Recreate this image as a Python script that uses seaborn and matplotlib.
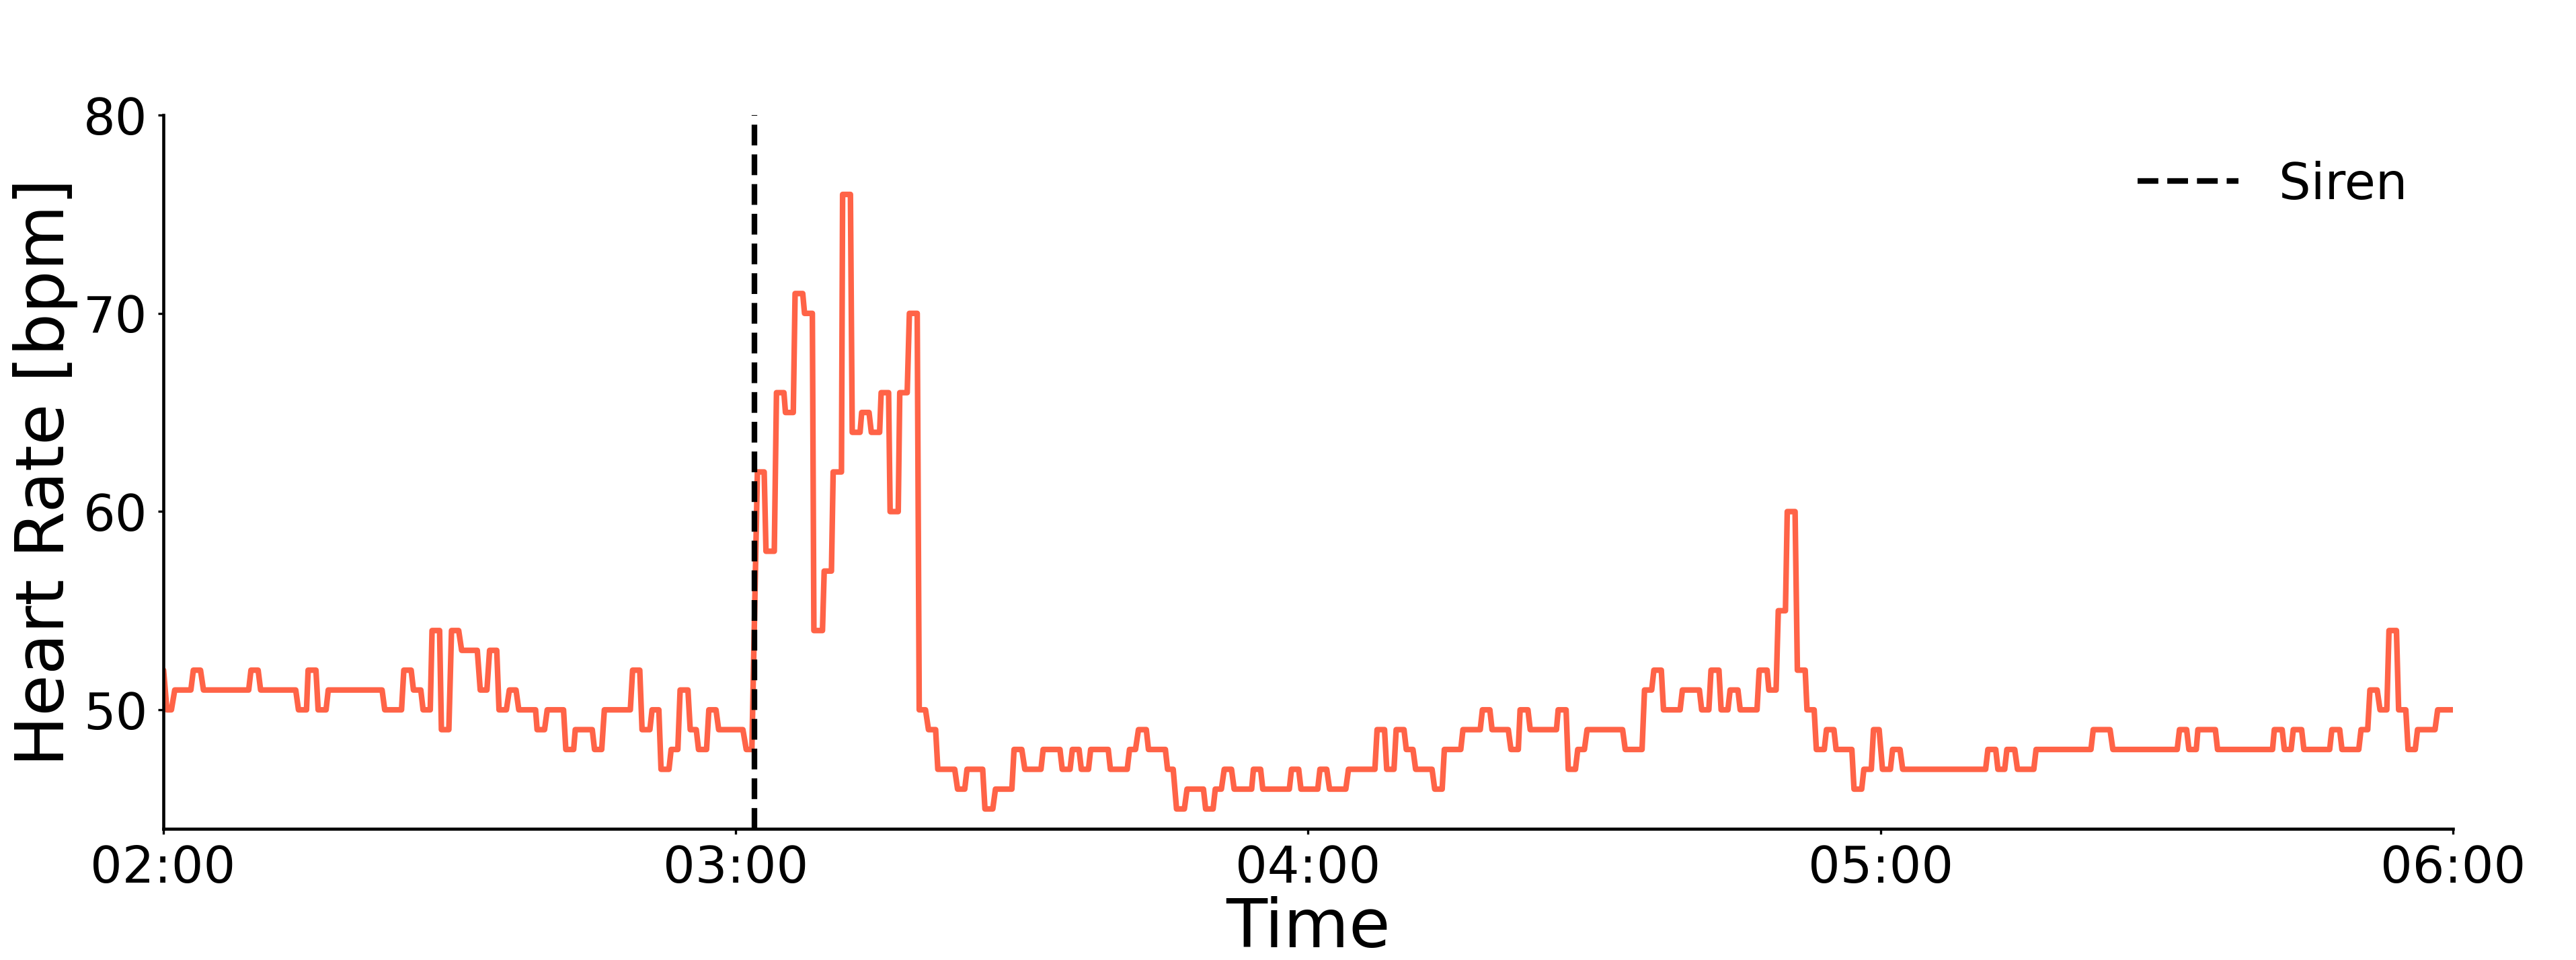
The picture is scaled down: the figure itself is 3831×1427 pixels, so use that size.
import numpy as np
import pandas as pd
import seaborn as sns
import matplotlib.pyplot as plt
import matplotlib.dates as mdates

# heart rate plateaus, minutes after 02:00 (start, end) and bpm
seg_start = [0.00, 0.40, 1.22, 3.17, 4.23, 9.21, 10.22, 14.19, 15.20, 16.25,
             17.31, 23.23, 25.23, 26.24, 27.25, 28.19, 29.17, 30.23, 31.29, 33.24,
             34.22, 35.21, 36.29, 37.28, 39.20, 40.26, 42.21, 43.20, 45.22, 46.25,
             49.21, 50.20, 51.25, 52.19, 53.25, 54.19, 55.25, 56.12, 57.20, 58.23,
             61.12, 62.29, 63.19, 64.29, 65.23, 66.24, 67.23, 68.21, 69.29, 70.23,
             71.22, 72.23, 73.22, 74.23, 75.26, 76.20, 77.21, 78.22, 79.25, 80.22,
             81.20, 83.27, 84.26, 86.14, 87.24, 89.19, 90.32, 92.24, 94.24, 95.30,
             96.24, 97.22, 99.29, 101.29, 102.23, 103.28, 105.28, 106.22, 107.32, 109.27,
             110.28, 111.22, 112.26, 114.28, 115.26, 118.27, 119.26, 121.25, 122.26, 124.24,
             127.24, 128.25, 129.24, 130.30, 131.28, 133.28, 134.29, 136.24, 138.28, 139.29,
             141.27, 142.23, 143.29, 146.22, 147.28, 148.27, 149.25, 153.25, 155.27, 156.25,
             157.26, 159.24, 161.26, 162.24, 163.30, 164.24, 165.30, 167.29, 168.30, 169.29,
             170.23, 171.29, 172.30, 173.28, 174.34, 175.35, 177.23, 178.26, 179.27, 180.21,
             181.27, 182.33, 191.26, 192.31, 193.25, 194.36, 196.31, 202.30, 204.36, 211.34,
             212.33, 213.27, 215.33, 221.28, 222.33, 223.27, 224.38, 227.31, 228.37, 230.37,
             231.30, 232.36, 233.30, 234.31, 235.30, 236.29, 238.40]
seg_end = [0.05, 0.87, 2.91, 3.92, 8.97, 9.96, 13.90, 15.03, 16.02, 17.08,
           22.95, 24.99, 26.00, 27.01, 28.00, 28.98, 29.95, 30.98, 32.93, 33.94,
           34.97, 35.98, 36.99, 39.04, 39.98, 41.97, 43.03, 44.98, 45.97, 48.97,
           49.96, 51.02, 51.96, 53.02, 53.95, 55.01, 55.88, 56.96, 57.95, 60.77,
           61.71, 63.00, 64.06, 65.07, 66.05, 67.04, 68.05, 69.11, 70.05, 71.10,
           72.04, 73.05, 73.99, 75.10, 76.04, 77.05, 77.99, 79.04, 79.91, 80.97,
           82.97, 84.02, 85.90, 86.96, 88.96, 90.00, 92.01, 94.00, 95.06, 96.00,
           96.99, 99.06, 101.05, 101.92, 103.05, 105.05, 105.87, 107.04, 109.04, 110.05,
           110.92, 111.98, 114.09, 115.03, 118.04, 119.02, 121.02, 121.96, 123.96, 127.01,
           128.02, 129.01, 130.06, 131.00, 133.00, 134.06, 136.01, 138.05, 139.06, 140.99,
           142.04, 143.05, 146.04, 147.05, 148.03, 148.97, 152.97, 155.01, 156.02, 157.03,
           159.00, 161.02, 162.01, 163.07, 164.01, 165.06, 167.06, 168.12, 169.06, 170.04,
           171.05, 172.11, 173.05, 174.11, 175.12, 177.00, 178.03, 179.04, 179.86, 181.04,
           182.05, 191.02, 192.08, 193.02, 194.07, 196.07, 202.06, 204.06, 211.10, 212.09,
           213.10, 215.10, 221.09, 222.10, 223.04, 224.14, 227.08, 228.13, 230.13, 231.07,
           232.06, 233.07, 234.08, 235.06, 236.05, 238.12, 240.00]
seg_bpm = [52, 50, 51, 52, 51, 52, 51, 50, 52, 50,
           51, 50, 52, 51, 50, 54, 49, 54, 53, 51,
           53, 50, 51, 50, 49, 50, 48, 49, 48, 50,
           52, 49, 50, 47, 48, 51, 49, 48, 50, 49,
           48, 62, 58, 66, 65, 71, 70, 54, 57, 62,
           76, 64, 65, 64, 66, 60, 66, 70, 50, 49,
           47, 46, 47, 45, 46, 48, 47, 48, 47, 48,
           47, 48, 47, 48, 49, 48, 47, 45, 46, 45,
           46, 47, 46, 47, 46, 47, 46, 47, 46, 47,
           49, 47, 49, 48, 47, 46, 48, 49, 50, 49,
           48, 50, 49, 50, 47, 48, 49, 48, 51, 52,
           50, 51, 50, 52, 50, 51, 50, 52, 51, 55,
           60, 52, 50, 48, 49, 48, 46, 47, 49, 47,
           48, 47, 48, 47, 48, 47, 48, 49, 48, 49,
           48, 49, 48, 49, 48, 49, 48, 49, 48, 49,
           51, 50, 54, 50, 48, 49, 50]

siren_min = 62.0
t0 = pd.Timestamp("2000-01-01 02:00")

# each plateau -> two vertices
mins = np.column_stack([seg_start, seg_end]).ravel()
bpm = np.repeat(seg_bpm, 2)
df = pd.DataFrame({"Time": t0 + pd.to_timedelta(mins, unit="min"), "HR": bpm})

fig, ax = plt.subplots(figsize=(12.773, 4.757), dpi=300)
fig.subplots_adjust(left=0.0633, right=0.952, top=0.880, bottom=0.1367)

sns.lineplot(data=df, x="Time", y="HR", color="tomato", linewidth=2.0, ax=ax)
ax.axvline(t0 + pd.Timedelta(minutes=siren_min), color="black", linestyle="--",
           linewidth=2.0, label="Siren")

ax.set_xlim(t0, t0 + pd.Timedelta(hours=4))
ax.set_ylim(44, 80)
ax.set_yticks([50, 60, 70, 80])
ax.xaxis.set_major_locator(mdates.HourLocator())
ax.xaxis.set_major_formatter(mdates.DateFormatter("%H:%M"))
ax.tick_params(labelsize=18, length=2, width=0.8)
ax.set_xlabel("Time", fontsize=24, labelpad=1)
ax.set_ylabel("Heart Rate [bpm]", fontsize=24, labelpad=2)
for s in ["left", "bottom"]:
    ax.spines[s].set_linewidth(1.1)
sns.despine(ax=ax)
ax.legend(loc="upper right", frameon=False, fontsize=18)

plt.savefig("out.png", dpi=300)
